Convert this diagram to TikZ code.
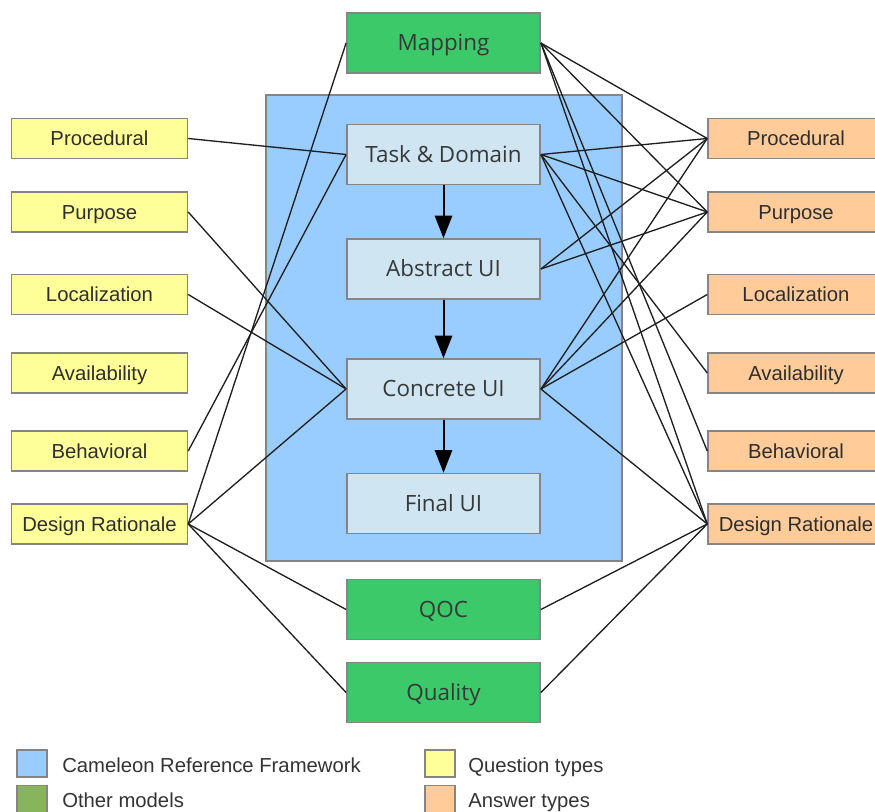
\documentclass[tikz,border=0pt]{standalone}
\usepackage{fontspec}
\setmainfont{Liberation Sans}
\newfontfamily\boxfont{Open Sans}
\usetikzlibrary{arrows.meta}
\definecolor{qfill}{HTML}{FFFF99}
\definecolor{afill}{HTML}{FFCC99}
\definecolor{mfill}{HTML}{3CC96A}
\definecolor{crf}{HTML}{99CCFF}
\definecolor{uifill}{HTML}{CFE5F2}
\definecolor{edgegray}{HTML}{858585}
\definecolor{keygreen}{HTML}{88B55C}
\begin{document}
\begin{tikzpicture}[x=0.75pt,y=-0.75pt,
  base/.style={draw=edgegray, line width=1.1pt, inner sep=0pt, anchor=center,
    text depth=0pt},
  sidebox/.style={base, minimum width=132pt, minimum height=30pt,
    text height=10.9pt, font=\fontsize{15.2}{18}\selectfont, text=black!82},
  qbox/.style={sidebox, fill=qfill},
  abox/.style={sidebox, fill=afill},
  mbox/.style={base, fill=mfill, minimum width=145pt, minimum height=45pt,
    text height=12pt, font=\boxfont\fontsize{16.8}{20}\selectfont, text=black!78},
  uibox/.style={mbox, fill=uifill},
  link/.style={draw=black!88, line width=1pt},
  flow/.style={draw=black, line width=1.5pt, -{Triangle[length=17pt,width=13pt]}},
  keybox/.style={base, minimum width=22.5pt, minimum height=20pt},
  keytext/.style={anchor=west, inner sep=0pt, text height=10.9pt, text depth=0pt,
    font=\fontsize{15.2}{18}\selectfont, text=black!80}
]
\useasboundingbox (0,0) rectangle (875,812);
\clip (0,0) rectangle (875,812);

% Cameleon Reference Framework region
\fill[crf] (266,95) rectangle (622,561);
\draw[edgegray, line width=1.1pt] (266,95) rectangle (622,561);

% models
\node[mbox]  (map)  at (443.5,43)    {Mapping};
\node[uibox] (task) at (443.5,154.5) {Task \& Domain};
\node[uibox] (abs)  at (443.5,269)   {Abstract UI};
\node[uibox] (conc) at (443.5,389)   {Concrete UI};
\node[uibox] (fin)  at (443.5,503.5) {Final UI};
\node[mbox]  (qoc)  at (443.5,609.5) {QOC};
\node[mbox]  (qual) at (443.5,692.5) {Quality};

% question types
\node[qbox] (lproc)  at (99.5,138.5) {Procedural};
\node[qbox] (lpurp)  at (99.5,212)   {Purpose};
\node[qbox] (lloc)   at (99.5,294.5) {Localization};
\node[qbox] (lavail) at (99.5,373)   {Availability};
\node[qbox] (lbeh)   at (99.5,451)   {Behavioral};
\node[qbox] (ldr)    at (99.5,524)   {Design Rationale};

% answer types
\node[abox] (rproc)  at (796,138.5) {Procedural};
\node[abox] (rpurp)  at (796,212)   {Purpose};
\node[abox] (rloc)   at (796,294.5) {Localization};
\node[abox] (ravail) at (796,373)   {Availability};
\node[abox] (rbeh)   at (796,451)   {Behavioral};
\node[abox] (rdr)    at (796,524)   {Design Rationale};

% refinement steps
\draw[flow] (task) -- (abs);
\draw[flow] (abs) -- (conc);
\draw[flow] (conc) -- (fin);

% question links
\draw[link] (lproc.east) -- (task.west);
\draw[link] (lpurp.east) -- (conc.west);
\draw[link] (lloc.east) -- (conc.west);
\draw[link] (lbeh.east) -- (task.west);
\draw[link] (ldr.east) -- (map.west);
\draw[link] (ldr.east) -- (conc.west);
\draw[link] (ldr.east) -- (qoc.west);
\draw[link] (ldr.east) -- (qual.west);

% answer links
\draw[link] (map.east) -- (rproc.west);
\draw[link] (map.east) -- (rpurp.west);
\draw[link] (map.east) -- (rbeh.west);
\draw[link] (map.east) -- (rdr.west);
\draw[link] (task.east) -- (rproc.west);
\draw[link] (task.east) -- (rpurp.west);
\draw[link] (task.east) -- (ravail.west);
\draw[link] (task.east) -- (rdr.west);
\draw[link] (abs.east) -- (rproc.west);
\draw[link] (abs.east) -- (rpurp.west);
\draw[link] (conc.east) -- (rproc.west);
\draw[link] (conc.east) -- (rpurp.west);
\draw[link] (conc.east) -- (rloc.west);
\draw[link] (conc.east) -- (rdr.west);
\draw[link] (qoc.east) -- (rdr.west);
\draw[link] (qual.east) -- (rdr.west);

% legend
\node[keybox, fill=crf]      (kcrf)   at (32,763.5) {};
\node[keybox, fill=keygreen] (kother) at (32,799)   {};
\node[keybox, fill=qfill]    (kq)     at (440,763.5) {};
\node[keybox, fill=afill]    (ka)     at (440,799)   {};
\node[keytext] (tcrf)   at (62,765)  {Cameleon Reference Framework};
\node[keytext] (tother) at (62,800)  {Other models};
\node[keytext] (tq)     at (468,765) {Question types};
\node[keytext] (ta)     at (468,800) {Answer types};
\end{tikzpicture}
\end{document}
